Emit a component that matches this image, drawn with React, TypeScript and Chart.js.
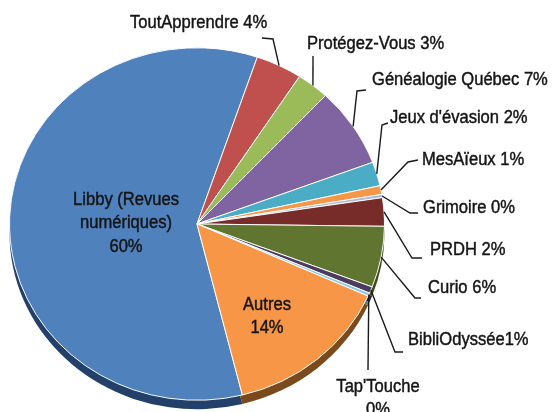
import React, { useEffect, useRef } from 'react';
import { Chart, registerables } from 'chart.js';

Chart.register(...registerables);

// ---- data ----
const categories = [
  'Libby (Revues numériques)', 'ToutApprendre', 'Protégez-Vous', 'Généalogie Québec',
  "Jeux d'évasion", 'MesAïeux', 'Grimoire', 'PRDH', 'Curio', 'BibliOdyssée', "Tap'Touche", 'Autres',
];
const values = [59.1, 4.0, 2.8, 7.3, 2.2, 0.8, 0.3, 2.6, 5.6, 0.6, 0.3, 14.4];
const labelTexts = [
  'Libby (Revues\nnumériques)\n60%', 'ToutApprendre 4%', 'Protégez-Vous 3%', 'Généalogie Québec 7%',
  "Jeux d'évasion 2%", 'MesAïeux 1%', 'Grimoire 0%', 'PRDH 2%', 'Curio 6%', 'BibliOdyssée1%',
  "Tap'Touche\n0%", 'Autres\n14%',
];
const colors = [
  '#4F81BD', '#C0504D', '#9BBB59', '#8064A2', '#4BACC6', '#F79646',
  '#A9B9D6', '#772C2A', '#5F7530', '#4D3B62', '#8CCBE0', '#F79646',
];
const sideColors = [
  '#23406A', '#7A2E2C', '#5E7A2E', '#4D3B66', '#2A6E80', '#8E4E1A',
  '#5A6E90', '#4A1A18', '#3A4A1C', '#2E2340', '#4A8498', '#7A4A1C',
];

// ---- layout (label placement, not data) ----
const K = 0.94; // vertical squash of the tilted pie
const DEPTH = 9; // thickness of the pie side
const FONT = '18px "Liberation Sans", Arial, sans-serif';
const SX = 0.92; // narrow text
type Lay = { x: number; y: number; align: 'left' | 'center'; lh?: number; pts?: number[][] };
const labelLayout: Lay[] = [
  { x: 126, y: 200, align: 'center', lh: 23.5 },
  { x: 130, y: 23, align: 'left', pts: [[273, 39], [262, 38]] },
  { x: 307, y: 44, align: 'left', pts: [[313, 56]] },
  { x: 372, y: 80, align: 'left', pts: [[357, 91], [366, 90]] },
  { x: 390, y: 118, align: 'left', pts: [[382, 125], [388, 123]] },
  { x: 422, y: 160, align: 'left', pts: [[408, 162], [418, 160]] },
  { x: 423, y: 208, align: 'left', pts: [[410, 213], [418, 213]] },
  { x: 430, y: 250, align: 'left', pts: [[412, 258], [422, 258]] },
  { x: 428, y: 288, align: 'left', pts: [[415, 298], [421, 298]] },
  { x: 408, y: 340, align: 'left', pts: [[395, 352], [403, 352]] },
  { x: 378, y: 387, align: 'center', lh: 23.5, pts: [[368, 370]] },
  { x: 267, y: 305, align: 'center', lh: 23.5 },
];

const pie3d = {
  id: 'pie3d',
  beforeDatasetsDraw(chart: any) {
    const meta = chart.getDatasetMeta(0);
    const a0 = meta.data[0];
    if (!a0) return;
    const cx = a0.x, cy = a0.y;
    const ctx = chart.ctx;
    ctx.save();
    ctx.translate(cx, cy);
    ctx.scale(1, K);
    ctx.translate(-cx, -cy);
    meta.data.forEach((arc: any, i: number) => {
      ctx.beginPath();
      ctx.moveTo(cx, cy + DEPTH / K);
      ctx.arc(cx, cy + DEPTH / K, arc.outerRadius, arc.startAngle, arc.endAngle);
      ctx.closePath();
      ctx.fillStyle = sideColors[i];
      ctx.fill();
    });
  },
  afterDatasetsDraw(chart: any) {
    const meta = chart.getDatasetMeta(0);
    if (!meta.data[0]) return;
    chart.ctx.restore();
  },
  afterDraw(chart: any) {
    const ctx = chart.ctx;
    const meta = chart.getDatasetMeta(0);
    meta.data.forEach((arc: any, i: number) => {
      const lay = labelLayout[i];
      const lines = labelTexts[i].split('\n');
      if (lay.pts) {
        const mid = (arc.startAngle + arc.endAngle) / 2;
        const R = arc.outerRadius;
        const ax = arc.x + R * Math.cos(mid);
        const ay = arc.y + R * Math.sin(mid) * K;
        ctx.save();
        ctx.strokeStyle = '#1a1a1a';
        ctx.lineWidth = 1.4;
        ctx.beginPath();
        ctx.moveTo(ax, ay);
        lay.pts.forEach((p) => ctx.lineTo(p[0], p[1]));
        ctx.stroke();
        ctx.restore();
      }
      ctx.save();
      ctx.font = FONT;
      ctx.fillStyle = '#141414';
      ctx.strokeStyle = '#141414';
      ctx.lineWidth = 0.45;
      ctx.textBaseline = 'middle';
      ctx.textAlign = lay.align;
      lines.forEach((ln, j) => {
        ctx.save();
        ctx.translate(lay.x, lay.y + j * (lay.lh || 0));
        ctx.scale(SX, 1);
        ctx.fillText(ln, 0, 0);
        ctx.strokeText(ln, 0, 0);
        ctx.restore();
      });
      ctx.restore();
    });
  },
};

export default function App() {
  const ref = useRef<HTMLCanvasElement>(null);
  useEffect(() => {
    if (!ref.current) return;
    const chart = new Chart(ref.current, {
      type: 'pie',
      data: {
        labels: categories,
        datasets: [
          {
            data: values,
            backgroundColor: colors,
            borderColor: '#ffffff',
            borderWidth: 1,
          },
        ],
      },
      options: {
        animation: false,
        responsive: true,
        maintainAspectRatio: false,
        rotation: 166,
        layout: { padding: { left: 9, right: 168, top: 36, bottom: 0 } },
        plugins: { legend: { display: false }, tooltip: { enabled: false } },
      },
      plugins: [pie3d],
    });
    return () => chart.destroy();
  }, []);
  return (
    <div style={{ position: 'fixed', left: 0, top: 0, width: 553, height: 412, background: '#fff' }}>
      <canvas ref={ref} />
    </div>
  );
}
